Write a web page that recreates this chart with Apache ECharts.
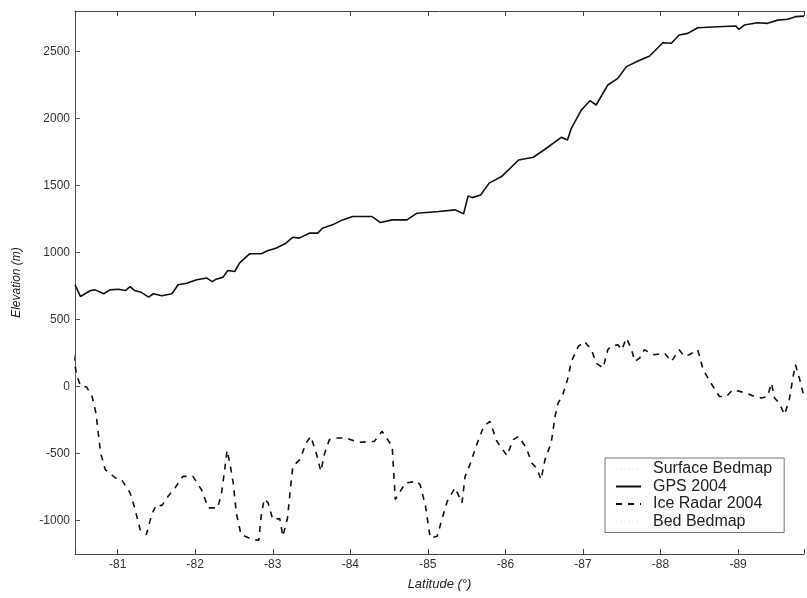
<!DOCTYPE html>
<html>
<head>
<meta charset="utf-8">
<script src="https://cdn.jsdelivr.net/npm/echarts@6/dist/echarts.min.js"></script>
<style>
html,body{margin:0;padding:0;background:#fff;}
#chart{width:807px;height:598px;}
</style>
</head>
<body>
<div id="chart"></div>
<script>
// Latitude (degrees) and elevation (m)
const gpsLat = [-80.45,-80.52,-80.65,-80.71,-80.82,-80.90,-81.01,-81.10,-81.16,-81.22,-81.31,-81.40,-81.46,-81.57,-81.70,-81.78,-81.89,-82.02,-82.15,-82.22,-82.27,-82.36,-82.42,-82.51,-82.57,-82.70,-82.85,-82.94,-83.04,-83.17,-83.26,-83.34,-83.47,-83.58,-83.64,-83.77,-83.90,-84.03,-84.28,-84.39,-84.54,-84.73,-84.86,-85.14,-85.35,-85.46,-85.52,-85.57,-85.68,-85.79,-85.95,-86.17,-86.36,-86.51,-86.72,-86.80,-86.85,-86.98,-87.09,-87.17,-87.32,-87.45,-87.56,-87.71,-87.86,-88.03,-88.14,-88.24,-88.35,-88.48,-88.74,-88.97,-89.01,-89.08,-89.25,-89.38,-89.51,-89.64,-89.74,-89.85];
const gpsElev = [758,671,715,720,691,720,725,715,745,715,700,666,691,676,691,758,770,795,808,782,800,815,864,857,920,989,989,1013,1031,1068,1113,1106,1143,1143,1180,1205,1242,1267,1267,1222,1242,1242,1292,1305,1317,1287,1421,1408,1428,1516,1565,1689,1709,1769,1858,1838,1925,2062,2131,2099,2248,2298,2385,2427,2464,2563,2559,2621,2633,2675,2683,2688,2663,2695,2712,2708,2732,2738,2758,2762];

const radarLat = [-80.43,-80.47,-80.52,-80.60,-80.67,-80.72,-80.78,-80.84,-80.97,-81.05,-81.16,-81.22,-81.29,-81.37,-81.44,-81.50,-81.57,-81.65,-81.74,-81.84,-81.97,-82.08,-82.17,-82.29,-82.34,-82.38,-82.41,-82.45,-82.49,-82.53,-82.59,-82.74,-82.82,-82.85,-82.89,-82.94,-83.00,-83.09,-83.13,-83.19,-83.24,-83.26,-83.35,-83.43,-83.49,-83.56,-83.62,-83.67,-83.73,-83.83,-83.94,-84.11,-84.31,-84.41,-84.54,-84.56,-84.58,-84.71,-84.86,-84.90,-84.97,-85.03,-85.12,-85.18,-85.25,-85.35,-85.44,-85.48,-85.55,-85.63,-85.72,-85.80,-85.89,-86.02,-86.10,-86.17,-86.27,-86.34,-86.40,-86.46,-86.51,-86.59,-86.64,-86.68,-86.74,-86.80,-86.85,-86.94,-87.02,-87.11,-87.17,-87.26,-87.32,-87.36,-87.45,-87.50,-87.56,-87.62,-87.67,-87.73,-87.79,-87.92,-88.05,-88.14,-88.24,-88.31,-88.37,-88.48,-88.55,-88.65,-88.76,-88.85,-88.93,-89.02,-89.10,-89.21,-89.30,-89.38,-89.43,-89.47,-89.53,-89.60,-89.66,-89.71,-89.74,-89.79,-89.85];
const radarElev = [236,87,5,-5,-75,-198,-496,-621,-683,-695,-794,-906,-1068,-1105,-956,-881,-889,-820,-757,-671,-671,-770,-906,-906,-794,-621,-477,-583,-720,-943,-1105,-1142,-1148,-969,-839,-869,-993,-986,-1118,-981,-695,-596,-546,-422,-373,-496,-633,-496,-397,-385,-385,-417,-410,-335,-447,-645,-844,-720,-708,-733,-894,-1130,-1118,-993,-857,-757,-869,-671,-571,-434,-298,-261,-410,-516,-397,-373,-459,-571,-608,-695,-546,-422,-224,-124,-62,50,186,298,335,273,174,137,273,298,311,273,360,286,186,211,273,236,249,186,273,224,236,273,124,25,-75,-75,-25,-37,-49,-75,-86,-75,25,-86,-124,-211,-99,75,162,62,-75];

// Bedmap series are too faint to read in the reference
const surfaceBedmapLat = [];
const surfaceBedmapElev = [];
const bedBedmapLat = [];
const bedBedmapElev = [];

const seriesNames = ['Surface Bedmap', 'GPS 2004', 'Ice Radar 2004', 'Bed Bedmap'];

function pairs(xs, ys) { return xs.map((x, i) => [x, ys[i]]); }

const FONT = "'Liberation Sans', Arial, Helvetica, sans-serif";
const chart = echarts.init(document.getElementById('chart'), null, {renderer: 'canvas'});

const xCommon = {
  type: 'value', inverse: true, min: -89.85, max: -80.45, splitNumber: 10,
  splitLine: {show: false}
};

chart.setOption({
  animation: false,
  backgroundColor: '#ffffff',
  grid: {left: 75, right: 0, top: 11, bottom: 44, containLabel: false},
  legend: {
    orient: 'vertical',
    left: 605, top: 458,
    data: seriesNames,
    itemWidth: 25, itemHeight: 14, itemGap: 1.5,
    padding: [3, 12, 3, 10],
    backgroundColor: '#ffffff',
    borderColor: '#777', borderWidth: 1, borderRadius: 0,
    itemStyle: {opacity: 0, borderWidth: 0},
    textStyle: {fontFamily: FONT, fontSize: 16, color: '#222', lineHeight: 16, padding: [0, 0, 0, 7]}
  },
  xAxis: [
    Object.assign({}, xCommon, {
      position: 'bottom',
      name: 'Latitude (°)', nameLocation: 'middle', nameGap: 24,
      nameTextStyle: {fontFamily: FONT, fontSize: 13, fontStyle: 'italic', color: '#222'},
      axisLine: {show: true, onZero: false, lineStyle: {color: '#444', width: 1}},
      axisTick: {show: true, inside: true, length: 5, lineStyle: {color: '#444'}},
      axisLabel: {
        margin: 5, fontFamily: FONT, fontSize: 12, color: '#333',
        formatter: v => Math.abs(v - Math.round(v)) > 1e-6 ? '' : String(Math.round(v))
      }
    }),
    Object.assign({}, xCommon, {
      position: 'top',
      axisLine: {show: true, onZero: false, lineStyle: {color: '#444', width: 1}},
      axisTick: {show: true, inside: true, length: 5, lineStyle: {color: '#444'}},
      axisLabel: {show: false}
    })
  ],
  yAxis: {
    type: 'value', min: -1250, max: 2800, splitNumber: 8,
    name: 'Elevation (m)', nameLocation: 'middle', nameGap: 52,
    nameTextStyle: {fontFamily: FONT, fontSize: 12, fontStyle: 'italic', color: '#222'},
    axisLine: {show: true, onZero: false, lineStyle: {color: '#555', width: 1}},
    axisTick: {show: true, inside: true, length: 5, lineStyle: {color: '#555'}},
    axisLabel: {
      margin: 5, fontFamily: FONT, fontSize: 12, color: '#333',
      formatter: v => (v % 500 === 0) ? String(v) : ''
    },
    splitLine: {show: false}
  },
  series: [
    {
      name: 'Surface Bedmap', type: 'line', symbol: 'none',
      data: pairs(surfaceBedmapLat, surfaceBedmapElev),
      itemStyle: {color: '#f2f2f2'},
      lineStyle: {color: '#f2f2f2', width: 1, type: 'dotted'}
    },
    {
      name: 'GPS 2004', type: 'line', symbol: 'none',
      data: pairs(gpsLat, gpsElev),
      itemStyle: {color: '#111'},
      lineStyle: {color: '#111', width: 1.6}
    },
    {
      name: 'Ice Radar 2004', type: 'line', symbol: 'none',
      data: pairs(radarLat, radarElev),
      itemStyle: {color: '#111'},
      lineStyle: {color: '#111', width: 1.6, type: [6, 6]}
    },
    {
      name: 'Bed Bedmap', type: 'line', symbol: 'none',
      data: pairs(bedBedmapLat, bedBedmapElev),
      itemStyle: {color: '#f2f2f2'},
      lineStyle: {color: '#f2f2f2', width: 1, type: 'dotted'}
    }
  ]
});
</script>
</body>
</html>
